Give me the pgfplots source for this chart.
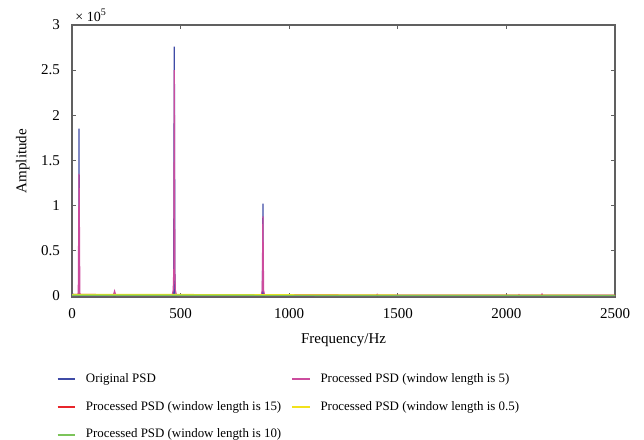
\documentclass[border=0pt]{standalone}
\usepackage{fontspec}
\setmainfont{Liberation Serif}
\usepackage{pgfplots}
\pgfplotsset{compat=1.18}
\definecolor{cBlue}{HTML}{3F4BA6}
\definecolor{cPink}{HTML}{CC4C9E}
\definecolor{cRed}{HTML}{E8252B}
\definecolor{cGreen}{HTML}{7CC45A}
\definecolor{cYellow}{HTML}{F2E21C}
\definecolor{cAxis}{HTML}{606060}
\begin{document}
\begin{tikzpicture}
\useasboundingbox (-36pt,-71.5pt) rectangle (286pt,148.5pt);
\begin{axis}[
  name=ax,
  scale only axis,
  width=271.5pt, height=136pt,
  xmin=0, xmax=2500, ymin=-1500, ymax=300000,
  xtick={0,500,1000,1500,2000,2500},
  ytick={0,50000,100000,150000,200000,250000,300000},
  yticklabels={0,0.5,1,1.5,2,2.5,3},
  xticklabels={0,500,1000,1500,2000,2500},
  scaled y ticks=false,
  tick align=inside,
  major tick length=2.2pt,
  axis line style={cAxis, line width=0.6pt},
  every tick/.style={cAxis, line width=0.6pt},
  tick label style={font=\fontsize{7.5}{9}\selectfont},
  xticklabel style={yshift=-2pt},
  yticklabel style={xshift=-2.5pt},
  label style={font=\fontsize{7.5}{9}\selectfont},
  xlabel={Frequency/Hz},
  ylabel={Amplitude},
  xlabel style={yshift=-1pt},
  ylabel style={yshift=-1pt},
  /pgf/number format/assume math mode=true,
  legend style={draw=none, fill=none, at={(axis description cs:-0.04,-0.249)}, anchor=north west,
    font=\fontsize{6.45}{8}\selectfont, legend cell align=left,
    row sep=4pt,
    /tikz/every odd column/.style={column sep=3pt},
    /tikz/every even column/.style={column sep=3pt}},
  legend columns=2,
  legend image code/.code={\draw[#1, line width=0.85pt] (0pt,0pt) -- (8.8pt,0pt);},
  every axis plot/.append style={line width=0.6pt},
]
\addplot[color=cBlue] coordinates {
(0,2500) (10,300) (28,200) (31,500) (32.5,185000) (34,500) (37,200)
(200,300) (462,300) (468,1000) (471,276000) (474,1000) (480,300)
(875,300) (877,1000) (879,102000) (881,1000) (885,300) (1500,100) (2500,100)};
\addlegendentry{Original PSD}
\addplot[color=cPink] coordinates {
(0,0) (25,0) (29,3000) (32.5,135000) (36,3000) (40,0)
(188,0) (193,2500) (196,5000) (199,2500) (204,0)
(455,0) (462,1500) (466,6000) (469,30000) (471,250000) (473,30000) (476,6000) (480,1500) (487,0)
(865,0) (872,1500) (876,6000) (879,88000) (882,6000) (886,1500) (893,0)
(1400,0) (1405,1500) (1410,0)
(2055,0) (2058,1000) (2061,0)
(2160,0) (2164,1800) (2168,0) (2500,0)};
\addlegendentry{Processed PSD (window length is 5)}
\addplot[color=cRed] coordinates {
(0,1200) (300,1100) (700,1000) (1000,700) (1500,500) (2500,400)};
\addlegendentry{Processed PSD (window length is 15)}
\addplot[color=cYellow] coordinates {
(0,1300) (500,1200) (1000,900) (1500,600) (2000,400) (2500,300)};
\addlegendentry{Processed PSD (window length is 0.5)}
\addplot[color=cGreen] coordinates {
(0,500) (500,400) (1000,300) (1500,200) (2500,150)};
\addlegendentry{Processed PSD (window length is 10)}
\end{axis}
\node[anchor=south west, font=\fontsize{7}{8}\selectfont, inner sep=0pt] at ([xshift=1.5pt,yshift=1.5pt]ax.north west) {× 10\textsuperscript{5}};
\end{tikzpicture}
\end{document}
